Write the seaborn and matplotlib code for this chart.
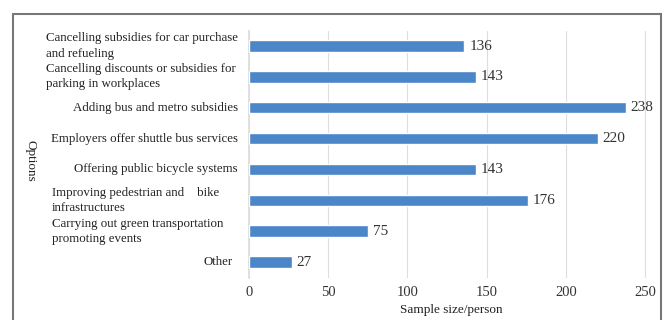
import matplotlib
matplotlib.use("Agg")
import matplotlib.pyplot as plt
import seaborn as sns
import pandas as pd
from matplotlib.patches import Rectangle
from matplotlib.transforms import blended_transform_factory

categories = [
    "Cancelling subsidies for car purchase\nand refueling",
    "Cancelling discounts or subsidies for\nparking in workplaces",
    "Adding bus and metro subsidies",
    "Employers offer shuttle bus services",
    "Offering public bicycle systems",
    "Improving pedestrian and    bike\ninfrastructures",
    "Carrying out green transportation\npromoting events",
    "Other",
]
values = [136, 143, 238, 220, 143, 176, 75, 27]
xticks = [0, 50, 100, 150, 200, 250]

sns.set_theme(style="white")
plt.rcParams["font.family"] = ["Liberation Serif", "DejaVu Serif"]

df = pd.DataFrame({"Option": categories, "Size": values})

W, H = 665, 320
fig = plt.figure(figsize=(6.65, 3.2), dpi=100)
ax = fig.add_axes([249 / W, 1 - 277.5 / H, (653 - 249) / W, (277.5 - 30.6) / H])

sns.barplot(data=df, y="Option", x="Size", color="#4a86c8", width=0.37,
            saturation=1, ax=ax, zorder=3)

ax.set_xlim(0, 255)
ax.set_xticks(xticks)
ax.set_xticklabels([str(t) for t in xticks], fontsize=10.5, color="#333333")
ax.grid(axis="x", color="#dddddd", linewidth=0.8, zorder=0)
ax.set_axisbelow(True)
for s in ["top", "right", "bottom"]:
    ax.spines[s].set_visible(False)
ax.spines["left"].set_color("#dddddd")
ax.tick_params(axis="both", length=0, pad=6)
ax.set_yticklabels([])
ax.set_ylabel("")

trans = blended_transform_factory(fig.transFigure, ax.transData)
for i, cat in enumerate(categories):
    if "\n" in cat:
        x0 = 46 if i < 2 else 52
        ax.text(x0 / W, i, cat, transform=trans, ha="left", va="center",
                fontsize=9.3, color="#222222", linespacing=1.35)
    else:
        x1 = 233 if cat == "Other" else 238
        ax.text(x1 / W, i, cat, transform=trans, ha="right", va="center",
                fontsize=9.3, color="#222222")

for i, v in enumerate(values):
    ax.text(v + 3, i, str(v), va="center", ha="left", fontsize=11, color="#333333")

ax.set_xlabel("Sample size/person", fontsize=9.5, color="#222222", labelpad=4)
fig.text(30 / W, 1 - 161 / H, "Options", rotation=270, ha="center", va="center",
         fontsize=9.5, color="#222222")

fig.patches.append(Rectangle((13 / W, -0.1), (661 - 13) / W, 1.1 - 14 / H,
                             transform=fig.transFigure, fill=False,
                             edgecolor="#777777", linewidth=1.5))

fig.savefig("out.png", dpi=100)
